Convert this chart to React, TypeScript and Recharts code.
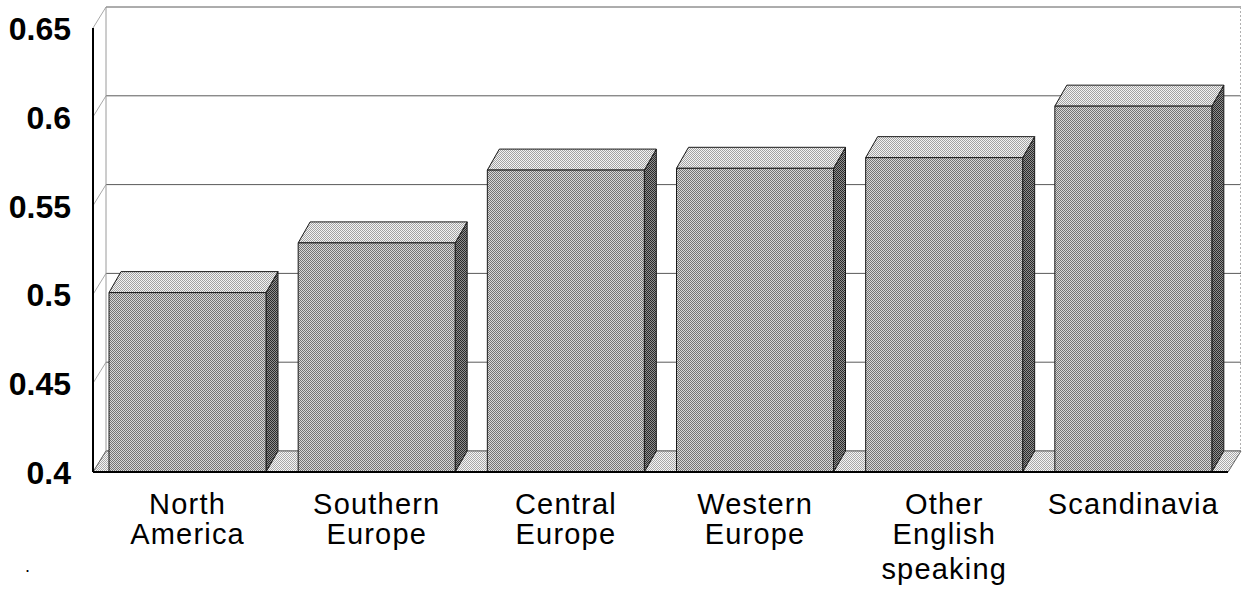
import React from "react";
import { BarChart, Bar, XAxis, YAxis, CartesianGrid, ReferenceArea } from "recharts";

// Index score by region
const regions = [
  "North America",
  "Southern Europe",
  "Central Europe",
  "Western Europe",
  "Other English speaking",
  "Scandinavia",
];
const scores = [0.501, 0.529, 0.57, 0.571, 0.577, 0.606];
const yTicks = [0.4, 0.45, 0.5, 0.55, 0.6, 0.65];

const data = regions.map((region, i) => ({ region, score: scores[i] }));

// depth offset of the pseudo-3D boxes and walls
const DX = 12;
const DY = -21;
const WALL_DX = 13;

const FONT = "'Liberation Sans', Arial, Helvetica, sans-serif";

function Dither({ id, dark, light }: { id: string; dark: string; light: string }) {
  return (
    <pattern id={id} width={2} height={2} patternUnits="userSpaceOnUse">
      <rect width={2} height={2} fill={light} />
      <rect width={1} height={1} fill={dark} />
      <rect x={1} y={1} width={1} height={1} fill={dark} />
    </pattern>
  );
}

// back wall edges, floor and the shared fill patterns
function WallAndFloor(props: any) {
  const { x, y, width, height } = props;
  const xr = x + width;
  const yb = y + height;
  return (
    <g>
      <defs>
        <Dither id="dFront" dark="#747474" light="#d8d8d8" />
        <Dither id="dTop" dark="#a2a2a2" light="#f4f4f4" />
        <Dither id="dSide" dark="#2a2a2a" light="#909090" />
        <Dither id="dFloor" dark="#a8a8a8" light="#f6f6f6" />
      </defs>
      <polygon
        points={`${x},${yb} ${x + WALL_DX},${yb + DY} ${xr + WALL_DX},${yb + DY} ${xr},${yb}`}
        fill="url(#dFloor)"
        stroke="#666"
        strokeWidth={1}
      />
      <line x1={x + WALL_DX} y1={y + DY} x2={x + WALL_DX} y2={yb + DY} stroke="#9a9a9a" />
      <line
        x1={xr + WALL_DX - 0.5}
        y1={y + DY}
        x2={xr + WALL_DX - 0.5}
        y2={yb + DY}
        stroke="#b0b0b0"
        strokeDasharray="2 2"
      />
    </g>
  );
}

function GridLine(props: any) {
  const { x1, x2, y1 } = props;
  return (
    <g>
      <line x1={x1} y1={y1} x2={x1 + WALL_DX} y2={y1 + DY} stroke="#a8a8a8" />
      <line x1={x1 + WALL_DX} y1={y1 + DY} x2={x2 + WALL_DX} y2={y1 + DY} stroke="#5a5a5a" />
    </g>
  );
}

function Box3D(props: any) {
  const { x, y, width, height } = props;
  if (height == null || width == null) return null;
  const x2 = x + width;
  const yb = y + height;
  return (
    <g stroke="#1a1a1a" strokeWidth={1} strokeLinejoin="round">
      <polygon
        points={`${x2},${y} ${x2 + DX},${y + DY} ${x2 + DX},${yb + DY} ${x2},${yb}`}
        fill="url(#dSide)"
      />
      <polygon
        points={`${x},${y} ${x + DX},${y + DY} ${x2 + DX},${y + DY} ${x2},${y}`}
        fill="url(#dTop)"
      />
      <rect x={x} y={y} width={width} height={height} fill="url(#dFront)" />
    </g>
  );
}

function YTick({ x, y, payload }: any) {
  return (
    <text
      x={x}
      y={y}
      dy={12}
      textAnchor="end"
      fontFamily={FONT}
      fontWeight="bold"
      fontSize={32}
      fill="#000"
    >
      {payload.value}
    </text>
  );
}

const lineOffsets = [42, 72, 107];

function XTick({ x, y, payload }: any) {
  const lines = String(payload.value).split(" ");
  return (
    <g>
      {lines.map((line, i) => (
        <text
          key={i}
          x={x}
          y={y + lineOffsets[i]}
          textAnchor="middle"
          fontFamily={FONT}
          fontSize={29}
          letterSpacing={1.2}
          fill="#000"
        >
          {line}
        </text>
      ))}
    </g>
  );
}

export default function App() {
  return (
    <div style={{ position: "absolute", left: 0, top: 0, width: 1242, height: 593, background: "#fff" }}>
      <BarChart
        width={1242}
        height={593}
        data={data}
        margin={{ top: 28, right: 14, left: 0, bottom: 0 }}
        barCategoryGap={16}
      >
        <CartesianGrid vertical={false} horizontal={GridLine as any} />
        <ReferenceArea y1={0.4} y2={0.65} fill="none" stroke="none" shape={WallAndFloor} />
        <XAxis
          dataKey="region"
          height={121}
          tickLine={false}
          tickSize={0}
          tickMargin={0}
          axisLine={{ stroke: "#000", strokeWidth: 2 }}
          tick={<XTick />}
          interval={0}
        />
        <YAxis
          width={93}
          domain={[0.4, 0.65]}
          ticks={yTicks}
          allowDataOverflow
          tickLine={false}
          tickSize={0}
          tickMargin={22}
          axisLine={{ stroke: "#000", strokeWidth: 2 }}
          tick={<YTick />}
        />
        <Bar dataKey="score" shape={Box3D} isAnimationActive={false} />
      </BarChart>
      <div
        style={{
          position: "absolute",
          left: 25,
          top: 556,
          fontFamily: FONT,
          fontSize: 18,
          lineHeight: "20px",
        }}
      >
        .
      </div>
    </div>
  );
}
